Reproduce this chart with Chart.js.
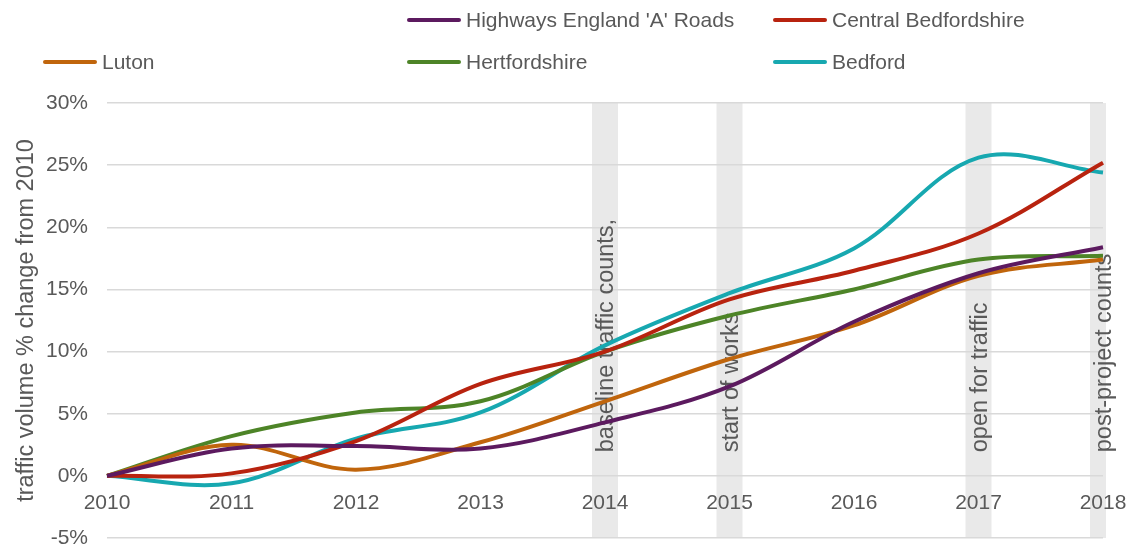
<!DOCTYPE html>
<html>
<head>
<meta charset="utf-8">
<script src="https://cdn.jsdelivr.net/npm/chart.js@4/dist/chart.umd.min.js"></script>
<style>
  html, body { margin: 0; padding: 0; background: #fff; }
  #contenedor { position: relative; width: 1133px; height: 549px; font-family: 'Liberation Sans', Arial, sans-serif; }
  #grafico { position: absolute; left: 0; top: 0; }
  #leyenda {
    position: absolute; left: 43px; top: 6px;
    display: grid; grid-template-columns: 364px 366px auto; row-gap: 14px;
  }
  .item { display: flex; align-items: center; height: 28px; font-size: 21px; color: #595959; white-space: nowrap; }
  .item i { display: inline-block; width: 54px; height: 4px; border-radius: 2px; margin-right: 5px; }
</style>
</head>
<body>
<div id="contenedor">
  <canvas id="grafico" width="1133" height="549"></canvas>
  <div id="leyenda"></div>
</div>
<script>
// ── Datos ─────────────────────────────────────
const AÑOS = ['2010', '2011', '2012', '2013', '2014', '2015', '2016', '2017', '2018']

const HIGHWAYS_A   = [0, 2.2, 2.4, 2.2, 4.3, 7.2, 12.4, 16.3, 18.4]
const CENTRAL_BEDS = [0, 0.2, 2.8, 7.4, 10.0, 14.2, 16.5, 19.5, 25.2]
const LUTON        = [0, 2.5, 0.5, 2.7, 6.0, 9.4, 12.1, 16.1, 17.4]
const HERTS        = [0, 3.2, 5.1, 6.0, 10.0, 12.9, 15.0, 17.4, 17.7]
const BEDFORD      = [0, -0.6, 3.0, 5.1, 10.5, 14.7, 18.3, 25.6, 24.4]

const HITOS_AÑOS  = ['2014', '2015', '2017', '2018']
const HITOS_TEXTO = ['baseline traffic counts,', 'start of works', 'open for traffic', 'post-project counts']

const Y_TICKS = [-5, 0, 5, 10, 15, 20, 25, 30]

// ── Estilo ────────────────────────────────────
const GRIS_TEXTO = '#595959'
const FUENTE     = "'Liberation Sans', Arial, sans-serif"

const series = [
  { nombre: "Highways England 'A' Roads", valores: HIGHWAYS_A,   color: '#5c1a5f' },
  { nombre: 'Central Bedfordshire',        valores: CENTRAL_BEDS, color: '#b8230f' },
  { nombre: 'Luton',                       valores: LUTON,        color: '#c0650c' },
  { nombre: 'Hertfordshire',               valores: HERTS,        color: '#4d8427' },
  { nombre: 'Bedford',                     valores: BEDFORD,      color: '#17a8b0' }
]

// ── Leyenda HTML (primer hueco vacío, como en Excel) ──
const leyenda = document.getElementById('leyenda')
series.forEach((s, i) => {
  const div = document.createElement('div')
  div.className = 'item'
  if (i === 0) div.style.gridColumnStart = 2
  div.innerHTML = `<i style="background:${s.color}"></i>${s.nombre}`
  leyenda.appendChild(div)
})

// ── Bandas grises y textos de hitos ───────────
const pluginHitos = {
  id: 'hitos',
  beforeDraw(chart) {
    const { ctx, chartArea, scales: { x } } = chart
    ctx.save()
    ctx.beginPath()
    ctx.rect(chartArea.left, chartArea.top, chartArea.width + 3, chartArea.height)
    ctx.clip()
    ctx.fillStyle = '#e9e9e9'
    HITOS_AÑOS.forEach(a => {
      const px = x.getPixelForValue(AÑOS.indexOf(a))
      ctx.fillRect(px - 13, chartArea.top, 26, chartArea.height)
    })
    ctx.restore()
  },
  beforeDatasetsDraw(chart) {
    const { ctx, scales: { x, y } } = chart
    ctx.save()
    ctx.fillStyle = GRIS_TEXTO
    ctx.font = `23.5px ${FUENTE}`
    ctx.textAlign = 'left'
    ctx.textBaseline = 'middle'
    HITOS_AÑOS.forEach((a, i) => {
      const px = x.getPixelForValue(AÑOS.indexOf(a)) + 2
      ctx.save()
      ctx.translate(px, y.getPixelForValue(1.9))
      ctx.rotate(-Math.PI / 2)
      ctx.fillText(HITOS_TEXTO[i], 0, 0)
      ctx.restore()
    })
    ctx.restore()
  }
}

// ── Gráfico ───────────────────────────────────
new Chart(document.getElementById('grafico').getContext('2d'), {
  type: 'line',
  data: {
    labels: AÑOS,
    datasets: series.map(s => ({
      label: s.nombre,
      data: s.valores,
      borderColor: s.color,
      backgroundColor: s.color,
      borderWidth: 4,
      pointRadius: 0,
      tension: 0.35,
      fill: false
    }))
  },
  options: {
    responsive: false,
    animation: false,
    layout: { padding: { left: 0, right: 30, top: 103, bottom: 11 } },
    plugins: { legend: { display: false }, tooltip: { enabled: false } },
    scales: {
      x: {
        type: 'category',
        position: { y: 0 },
        offset: false,
        grid: { display: false },
        border: { display: false },
        ticks: {
          color: GRIS_TEXTO, font: { family: FUENTE, size: 21 },
          padding: 7, maxRotation: 0, autoSkip: false
        },
        afterFit: s => { s.height = 0; s.paddingLeft = 0; s.paddingRight = 0 }
      },
      y: {
        min: -5, max: 30,
        afterBuildTicks: s => { s.ticks = Y_TICKS.map(v => ({ value: v })) },
        ticks: {
          color: GRIS_TEXTO, font: { family: FUENTE, size: 21 },
          padding: 19, callback: v => v + '%'
        },
        grid: { color: '#d9d9d9', lineWidth: 1.5, drawTicks: false },
        border: { display: false },
        title: {
          display: true, text: 'traffic volume % change from 2010',
          color: GRIS_TEXTO, font: { family: FUENTE, size: 23.5 },
          padding: { top: 12, bottom: 0 }
        },
        afterFit: s => { s.width = 107; s.paddingTop = 0; s.paddingBottom = 0 }
      }
    }
  },
  plugins: [pluginHitos]
})
</script>
</body>
</html>
